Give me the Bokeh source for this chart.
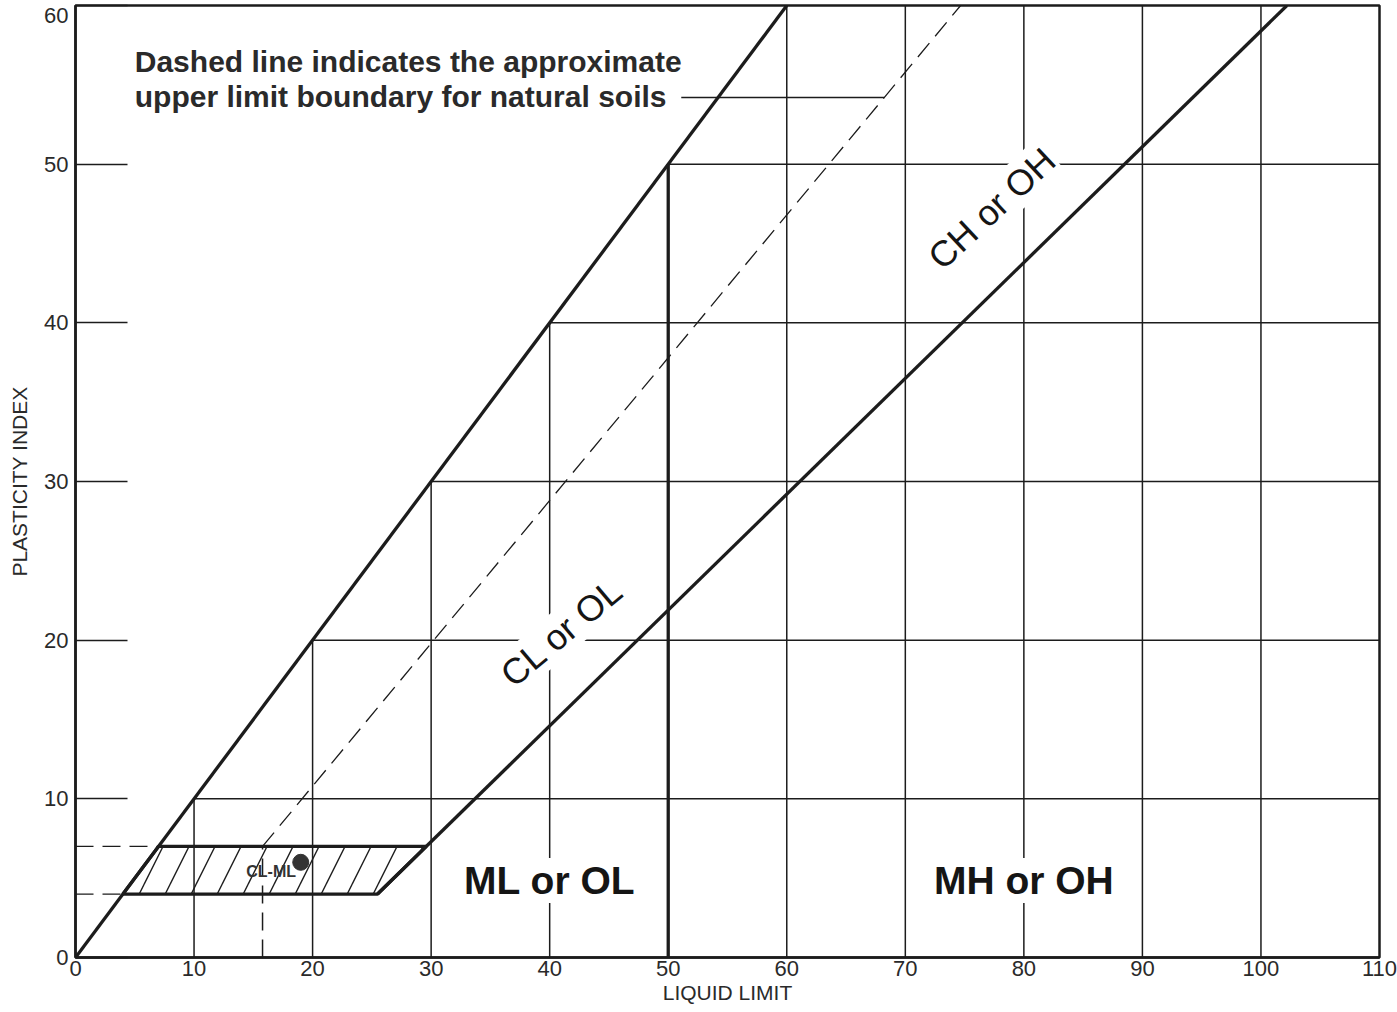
import numpy as np
from bokeh.plotting import figure
from bokeh.models import Range1d, Label, FixedTicker
from bokeh.embed import file_html
from bokeh.resources import INLINE

# ---- data ----
ll_ticks = [0, 10, 20, 30, 40, 50, 60, 70, 80, 90, 100, 110]
pi_ticks = [0, 10, 20, 30, 40, 50, 60]
ll_boundary = 50                      # LL = 50 divides low / high plasticity
a_line_slope, a_line_ll0 = 0.73, 20    # A-line: PI = 0.73 (LL - 20)
u_line_slope, u_line_ll0 = 0.9, 8      # U-line: PI = 0.9 (LL - 8)
band_pi = [4, 7]                       # CL-ML band
u_line_start_pi = 7
leader_pi = 54.2
leader_start_ll = 51.1
sample_ll = [19]
sample_pi = [6]
zone_names = ["ML or OL", "MH or OH", "CL or OL", "CH or OH"]
zone_ll = [40, 80, 41.0, 77.3]
zone_pi = [4.85, 4.85, 20.5, 47.2]
zone_angle = [0, 0, 40, 43]
zone_bold = [True, True, False, False]
note_lines = ["Dashed line indicates the approximate",
              "upper limit boundary for natural soils"]
note_ll = 5.0
note_pi = [56.5, 54.25]

INK = "#1c1c1c"
TXT = "#2a2a2a"
FONT = "Liberation Sans"

ll_max, pi_max = ll_ticks[-1], pi_ticks[-1]

p = figure(width=1397, height=1012, x_range=Range1d(0, ll_max), y_range=Range1d(0, pi_max),
           output_backend="svg", toolbar_location=None,
           min_border_left=75, min_border_right=18, min_border_top=5, min_border_bottom=55)
p.xgrid.visible = False
p.ygrid.visible = False
p.background_fill_color = "white"
p.outline_line_color = INK
p.outline_line_width = 2.5
p.outline_line_alpha = 1

for ax in (p.xaxis[0], p.yaxis[0]):
    ax.axis_line_color = INK
    ax.axis_line_width = 2.5
    ax.major_label_text_font = FONT
    ax.major_label_text_font_size = "22px"
    ax.major_label_text_color = TXT
    ax.axis_label_text_font = FONT
    ax.axis_label_text_font_size = "21px"
    ax.axis_label_text_font_style = "normal"
    ax.axis_label_text_color = TXT
    ax.minor_tick_line_color = None
    ax.major_tick_line_color = INK
    ax.major_tick_line_width = 1.5

p.xaxis.ticker = FixedTicker(ticks=ll_ticks)
p.yaxis.ticker = FixedTicker(ticks=pi_ticks)
p.xaxis.axis_label = "LIQUID LIMIT"
p.yaxis.axis_label = "PLASTICITY INDEX"
p.xaxis.major_tick_in = 0
p.xaxis.major_tick_out = 0
p.xaxis.major_label_standoff = 3
p.xaxis.axis_label_standoff = 2
p.yaxis.major_tick_in = 52
p.yaxis.major_tick_out = 0
p.yaxis.major_label_standoff = 7
p.yaxis.axis_label_standoff = 10
# top label sits just below the frame edge, as in the original
p.yaxis.major_label_overrides = {pi_max: "\n" + str(pi_max)}
p.yaxis.major_label_text_line_height = 0.1

# ---- grid segments bounded by the upper line (PI = LL) ----
vx = np.array([t for t in ll_ticks[1:-1] if t != ll_boundary], dtype=float)
p.segment(x0=vx, y0=0, x1=vx, y1=np.minimum(vx, pi_max), line_color=INK, line_width=1.5)
hy = np.array(pi_ticks[1:-1], dtype=float)
p.segment(x0=hy, y0=hy, x1=ll_max, y1=hy, line_color=INK, line_width=1.5)

# ---- U-line (dashed) and dashed guides ----
u_pi = np.array([u_line_start_pi, pi_max], dtype=float)
u_ll = u_line_ll0 + u_pi / u_line_slope
p.line(u_ll, u_pi, line_color=INK, line_width=1.3, line_dash="18 9")
p.segment(x0=[u_ll[0]], y0=[0], x1=[u_ll[0]], y1=[u_pi[0]], line_color=INK, line_width=1.5, line_dash="18 9")
bp = np.array(band_pi, dtype=float)
p.segment(x0=0, y0=bp, x1=bp, y1=bp, line_color=INK, line_width=1.3, line_dash="18 9")

# leader line from note to U-line
p.segment(x0=[leader_start_ll], y0=[leader_pi], x1=[u_line_ll0 + leader_pi / u_line_slope], y1=[leader_pi],
          line_color=INK, line_width=1.5)

# ---- heavy lines ----
up_ll = np.array([0, pi_max], dtype=float)
p.line(up_ll, up_ll, line_color=INK, line_width=3.3)
a_pi = np.array([band_pi[0], pi_max], dtype=float)
a_ll = a_line_ll0 + a_pi / a_line_slope
p.line(a_ll, a_pi, line_color=INK, line_width=3.3)
p.segment(x0=[ll_boundary], y0=[0], x1=[ll_boundary], y1=[ll_boundary], line_color=INK, line_width=3.3)

# ---- CL-ML hatched band ----
band_x = [bp[0], bp[1], a_line_ll0 + bp[1] / a_line_slope, a_line_ll0 + bp[0] / a_line_slope]
band_y = [bp[0], bp[1], bp[1], bp[0]]
p.patch(band_x, band_y, fill_alpha=0, line_color=INK, line_width=3.3,
        hatch_pattern="/", hatch_color=INK, hatch_scale=52, hatch_weight=1.4)

p.add_layout(Label(x=16.5, y=5.4, text="CL-ML", text_align="center", text_baseline="middle",
                   text_font=FONT, text_font_style="bold", text_font_size="16px",
                   text_color="#333333"))
p.scatter(sample_ll, sample_pi, size=16, color="#333333")

# ---- zone labels ----
for name, x, y, a, b in zip(zone_names, zone_ll, zone_pi, zone_angle, zone_bold):
    p.add_layout(Label(x=x, y=y, text=name, angle=a, angle_units="deg",
                       text_align="center", text_baseline="middle",
                       text_font=FONT, text_font_style="bold" if b else "normal",
                       text_font_size="39px" if b else "36px", text_color="#151515",
                       background_fill_color="white", background_fill_alpha=1,
                       padding=1))

# ---- note ----
for t, y in zip(note_lines, note_pi):
    p.add_layout(Label(x=note_ll, y=y, text=t, text_align="left", text_baseline="middle",
                       text_font=FONT, text_font_style="bold",
                       text_font_size="30px", text_color=TXT))

open("out.html", "w").write(file_html(p, INLINE))
